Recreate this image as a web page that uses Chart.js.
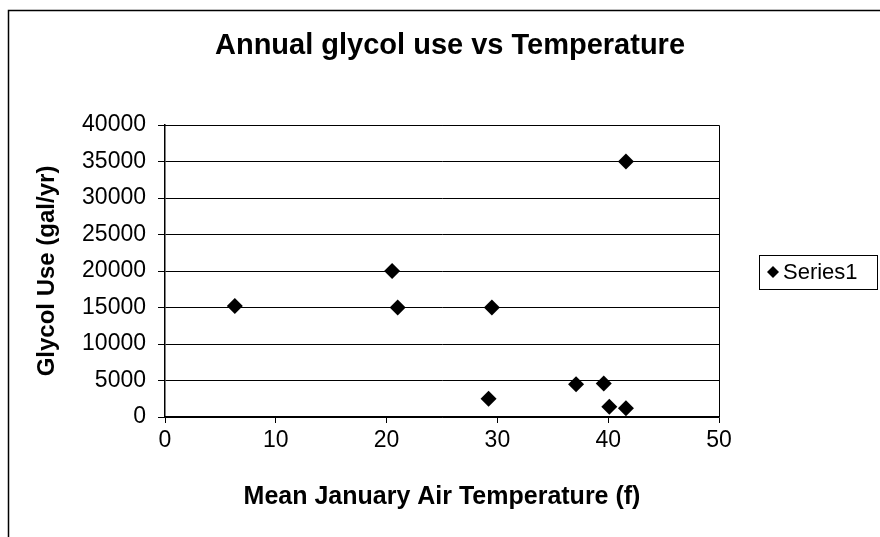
<!DOCTYPE html>
<html>
<head>
<meta charset="utf-8">
<script src="https://cdn.jsdelivr.net/npm/chart.js@4"></script>
<style>
  html, body { margin: 0; padding: 0; background: #fff; }
  canvas { display: block; }
</style>
</head>
<body>
<canvas id="glycolChart" width="880" height="537"></canvas>
<script>
// mean January air temperature (f) and annual glycol use (gal/yr)
const tempF = [6.3, 20.5, 21.0, 29.5, 29.2, 37.1, 39.6, 40.1, 41.6, 41.6];
const glycolUse = [15200, 20000, 15000, 15000, 2500, 4500, 4600, 1400, 1200, 35000];
const seriesName = 'Series1';
const chartTitle = 'Annual glycol use vs Temperature';
const xTicks = [0, 10, 20, 30, 40, 50];
const yTicks = [0, 5000, 10000, 15000, 20000, 25000, 30000, 35000, 40000];

const points = tempF.map((t, i) => ({ x: t, y: glycolUse[i] }));

Chart.defaults.font.family = "'Liberation Sans', Arial, sans-serif";
Chart.defaults.color = '#000';

// outer frame, title, plot border and the boxed legend on the right
const frame = {
    id: 'frame',
    beforeDraw(chart) {
        const c = chart.ctx;
        c.save();
        c.fillStyle = '#fff';
        c.fillRect(0, 0, chart.width, chart.height);
        c.strokeStyle = '#000';
        c.lineWidth = 1.5;
        c.beginPath();
        c.moveTo(8.5, chart.height);
        c.lineTo(8.5, 10.5);
        c.lineTo(chart.width, 10.5);
        c.stroke();
        c.restore();
    },
    afterDraw(chart) {
        const c = chart.ctx;
        const a = chart.chartArea;
        c.save();
        c.fillStyle = '#000';
        c.font = "bold 29px 'Liberation Sans', Arial, sans-serif";
        c.textAlign = 'center';
        c.textBaseline = 'middle';
        c.fillText(chartTitle, 450, 46);

        c.strokeStyle = '#000';
        c.lineWidth = 1;
        c.beginPath();
        c.moveTo(a.left, a.top + 0.5);
        c.lineTo(a.right + 0.5, a.top + 0.5);
        c.lineTo(a.right + 0.5, a.bottom);
        c.stroke();

        // legend box
        c.strokeRect(759.5, 255.5, 118, 34);
        const cx = 773, cy = 272, r = 6;
        c.beginPath();
        c.moveTo(cx, cy - r);
        c.lineTo(cx + r, cy);
        c.lineTo(cx, cy + r);
        c.lineTo(cx - r, cy);
        c.closePath();
        c.fill();
        c.font = "22px 'Liberation Sans', Arial, sans-serif";
        c.textAlign = 'left';
        c.fillText(seriesName, 783, cy + 1);
        c.restore();
    }
};

new Chart(document.getElementById('glycolChart'), {
    type: 'scatter',
    data: {
        datasets: [{
            label: seriesName,
            data: points,
            pointStyle: 'rectRot',
            pointRadius: 8,
            pointHoverRadius: 8,
            backgroundColor: '#000',
            borderColor: '#000',
            borderWidth: 0
        }]
    },
    options: {
        responsive: false,
        animation: false,
        layout: { padding: { left: 0, right: 161, top: 125, bottom: 0 } },
        plugins: {
            legend: { display: false },
            tooltip: { enabled: false },
            title: { display: false }
        },
        scales: {
            x: {
                type: 'linear',
                min: 0,
                max: 50,
                afterBuildTicks: s => { s.ticks = xTicks.map(v => ({ value: v })); },
                afterFit: s => { s.height = 120; },
                grid: { drawOnChartArea: false, drawTicks: true, tickLength: 6, color: '#000' },
                border: { color: '#000', width: 1.5 },
                ticks: { font: { size: 23 }, padding: 4, maxRotation: 0, callback: v => String(v) },
                title: {
                    display: true,
                    text: 'Mean January Air Temperature (f)',
                    font: { size: 25, weight: 'bold' },
                    padding: { bottom: 25 }
                }
            },
            y: {
                type: 'linear',
                min: 0,
                max: 40000,
                afterBuildTicks: s => { s.ticks = yTicks.map(v => ({ value: v })); },
                afterFit: s => { s.width = 165; },
                grid: { color: '#000', lineWidth: 1, tickLength: 7 },
                border: { color: '#000', width: 1.5 },
                ticks: { font: { size: 23 }, padding: 12, callback: v => String(v) },
                title: {
                    display: true,
                    text: 'Glycol Use (gal/yr)',
                    font: { size: 24, weight: 'bold' },
                    padding: { top: 33 }
                }
            }
        }
    },
    plugins: [frame]
});
</script>
</body>
</html>
